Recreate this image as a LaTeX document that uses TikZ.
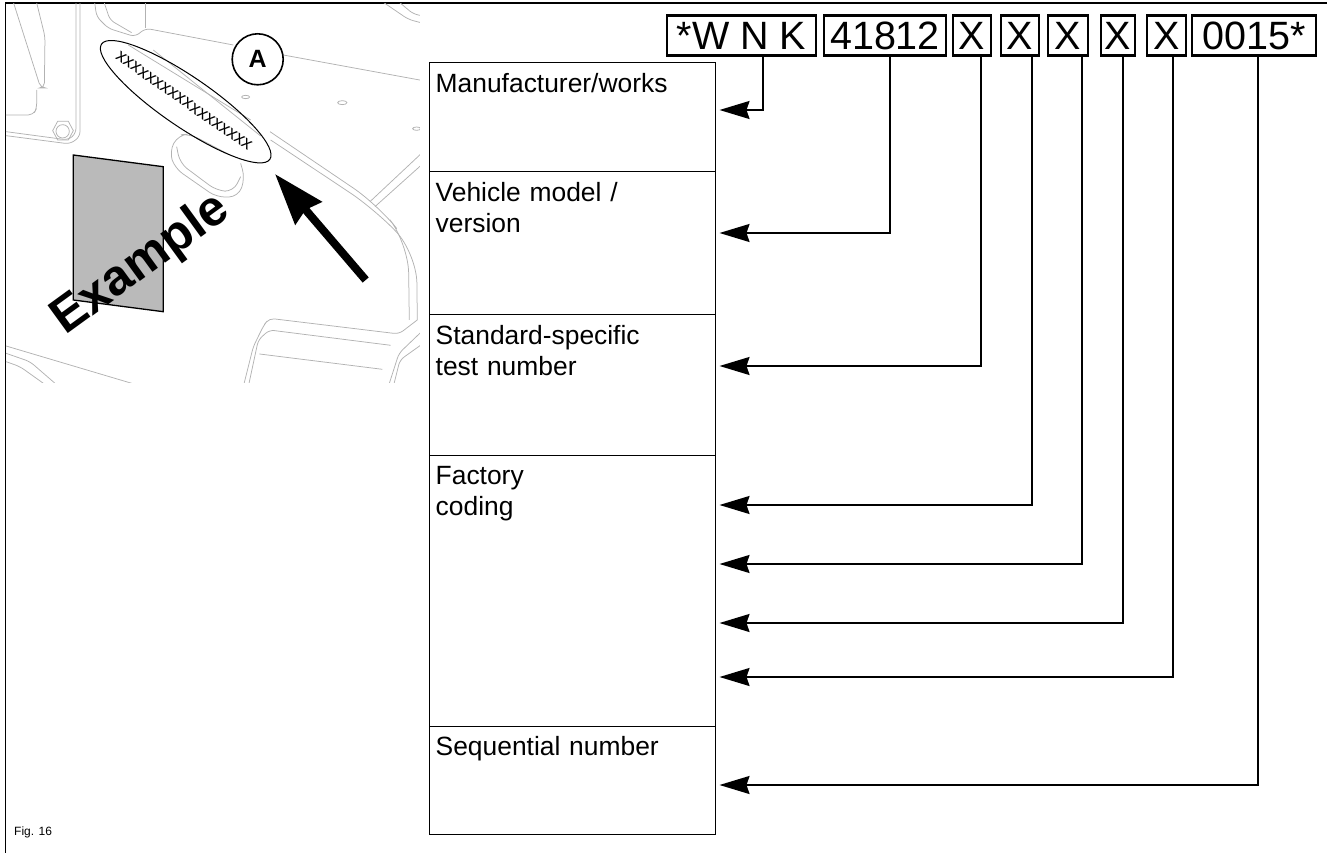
\documentclass[tikz,border=0pt]{standalone}
\usepackage{fontspec}
\setmainfont{Liberation Sans}
\usetikzlibrary{shapes.geometric,arrows.meta}
\tikzset{
    frameline/.style = {line width=1.3pt, draw=black},
    sketch/.style    = {line width=0.75pt, draw=black!30, rounded corners=5pt},
    fieldbox/.style  = {rectangle, draw=black, line width=1pt, minimum width=286pt, inner sep=0pt},
    fieldtext/.style = {anchor=north west, align=left, inner sep=0pt, text width=270pt, font=\fontsize{26.4}{31}\selectfont},
    codebox/.style   = {rectangle, draw=black, line width=2.4pt, minimum height=40pt, inner sep=0pt, font=\fontsize{39.5}{40}\selectfont},
    pointer/.style   = {line width=1.7pt, draw=black, -{Stealth[length=30pt,width=18pt,inset=3pt]}}
}
\begin{document}
\begin{tikzpicture}[x=1pt,y=-1pt]
    \useasboundingbox (0,0) rectangle (1327,853);

    % --- Frame ---
    \draw[frameline] (1327,3) -- (5.5,3) -- (5.5,853);

    % --- Machine sketch (coordinates three times enlarged) ---
    \begin{scope}[x=0.3333pt,y=-0.3333pt]
        \clip (18,12) rectangle (1260,1148);
        % upper left strut and bracket
        \draw[sketch] (38,0) -- (122,264) -- (133,264) -- (135,110) -- (108,0);
        \draw[sketch] (18,345) -- (100,345) -- (110,325) -- (110,270);
        \draw[sketch] (228,0) -- (228,400) -- (205,420) -- (18,395);
        \draw[sketch] (240,0) -- (240,410) -- (210,432) -- (18,407);
        \draw[sketch, rounded corners=0pt] (158,392) -- (173,364) -- (205,364) -- (220,392) -- (205,420) -- (173,420) -- cycle;
        \draw[sketch] (188,394) circle (20);
        % top edges
        \draw[sketch] (283,0) -- (290,50) -- (325,85) -- (405,110) -- (437,85) -- (700,135);
        \draw[sketch] (850,165) -- (1270,242);
        \draw[sketch] (310,0) -- (330,60) -- (395,98);
        \draw[sketch] (437,0) -- (437,85);
        \draw[sketch] (1140,0) -- (1225,58) -- (1270,70);
        \draw[sketch] (1190,0) -- (1240,42) -- (1270,48);
        % small holes
        \draw[sketch] (737,291) ellipse (12 and 5);
        \draw[sketch] (1027,308) ellipse (14 and 6);
        \draw[sketch] (1250,386) ellipse (12 and 5);
        % plate pressed in under the sign
        \draw[sketch] (385,135) -- (752,360);
        \draw[sketch] (460,150) -- (782,408);
        \draw[sketch, rounded corners=9pt] (690,465) -- (570,402) -- (535,405) -- (508,455) -- (525,505) -- (650,592) -- (715,590) -- (735,535) -- (722,490);
        \draw[sketch, rounded corners=9pt] (530,440) -- (540,490) -- (650,572) -- (700,575) -- (722,530);
        % long double edge on the right
        \draw[sketch, rounded corners=30pt] (810,395) -- (1135,615) -- (1225,730) -- (1228,960);
        \draw[sketch, rounded corners=30pt] (812,420) -- (1125,628) -- (1250,760) -- (1252,960);
        \draw[sketch] (1110,605) -- (1270,455);
        \draw[sketch] (1125,620) -- (1270,490);
        % seat at the bottom right
        \draw[sketch] (1252,960) -- (1197,1002) -- (808,955) -- (792,975) -- (760,1040) -- (730,1160);
        \draw[sketch] (745,1160) -- (775,1020) -- (808,990) -- (1172,1036);
        \draw[sketch] (778,1062) -- (1147,1108);
        \draw[sketch] (1270,990) -- (1197,1060) -- (1165,1160);
        \draw[sketch] (1270,1030) -- (1200,1080) -- (1180,1160);
        % lower left edges
        \draw[sketch] (18,1038) -- (395,1150);
        \draw[sketch] (18,1060) -- (90,1085) -- (165,1150);
        \draw[sketch] (18,1085) -- (60,1100) -- (130,1150);
    \end{scope}

    % --- Sign and marks on the sketch ---
    \filldraw[frameline, fill=black!27] (73.3,155) -- (163.3,166.7) -- (163.3,311.7) -- (73.3,300) -- cycle;
    \node[font=\fontsize{50}{50}\selectfont\bfseries, rotate=36] (example) at (141,265) {Example};
    \node[ellipse, draw=black, line width=1pt, minimum width=204pt, minimum height=50pt, inner sep=0pt, rotate=-34.4] (sign) at (185.7,101.7) {};
    \node[font=\fontsize{18}{18}\selectfont, rotate=-34.8, inner sep=0pt] (serial) at (184,101) {xxxxxxxxxxxxxxxxxx};
    \node[circle, draw=black, fill=white, line width=1.6pt, minimum size=51pt, inner sep=0pt, font=\fontsize{25}{25}\selectfont\bfseries] (detail_a) at (257.7,59.3) {A};
    \coordinate (view_tail) at (365.7,280);
    \coordinate (view_tip) at (275,174);
    \draw[line width=8pt, -{Stealth[length=51pt,width=34pt,inset=4pt]}] (view_tail) -- (view_tip);

    % --- Code boxes ---
    \node[codebox, minimum width=149pt] (code_wnk) at (741.5,35.5) {*W N K};
    \node[codebox, minimum width=122pt] (code_model) at (885,35.5) {41812};
    \node[codebox, minimum width=38pt] (code_x_a) at (972,35.5) {X};
    \node[codebox, minimum width=38pt] (code_x_b) at (1020,35.5) {X};
    \node[codebox, minimum width=40pt] (code_x_c) at (1068,35.5) {X};
    \node[codebox, minimum width=34pt] (code_x_d) at (1118,35.5) {X};
    \node[codebox, minimum width=39pt] (code_x_e) at (1166.5,35.5) {X};
    \node[codebox, minimum width=124pt] (code_seq) at (1254,35.5) {0015*};

    % --- Field boxes ---
    \node[fieldbox, minimum height=109pt] (manufacturer) at (572,117.5) {};
    \node[fieldbox, minimum height=142pt] (model) at (572,243) {};
    \node[fieldbox, minimum height=141pt] (standard) at (572,384.5) {};
    \node[fieldbox, minimum height=271pt] (factory) at (572,590.5) {};
    \node[fieldbox, minimum height=108pt] (sequential) at (572,780) {};

    \node[fieldtext] (manufacturer_t) at ([xshift=7pt,yshift=-11pt]manufacturer.north west) {Manufacturer/works};
    \node[fieldtext] (model_t) at ([xshift=7pt,yshift=-11pt]model.north west) {Vehicle model /\\version};
    \node[fieldtext] (standard_t) at ([xshift=7pt,yshift=-12pt]standard.north west) {Standard-specific\\test number};
    \node[fieldtext] (factory_t) at ([xshift=7pt,yshift=-12pt]factory.north west) {Factory\\coding};
    \node[fieldtext] (sequential_t) at ([xshift=7pt,yshift=-11pt]sequential.north west) {Sequential number};

    % --- Connections ---
    \draw[pointer] ([xshift=21.5pt]code_wnk.south) |- ([xshift=4pt]manufacturer.east |- 0,110);
    \draw[pointer] ([xshift=5pt]code_model.south) |- ([xshift=4pt]model.east |- 0,233);
    \draw[pointer] ([xshift=9pt]code_x_a.south) |- ([xshift=4pt]standard.east |- 0,366);
    \draw[pointer] ([xshift=12pt]code_x_b.south) |- ([xshift=4pt]factory.east |- 0,505);
    \draw[pointer] ([xshift=14pt]code_x_c.south) |- ([xshift=4pt]factory.east |- 0,564);
    \draw[pointer] ([xshift=5pt]code_x_d.south) |- ([xshift=4pt]factory.east |- 0,623);
    \draw[pointer] ([xshift=6.5pt]code_x_e.south) |- ([xshift=4pt]factory.east |- 0,677);
    \draw[pointer] ([xshift=4pt]code_seq.south) |- ([xshift=4pt]sequential.east |- 0,785);

    \node[anchor=west, inner sep=0pt, font=\fontsize{12}{12}\selectfont] (fig_label) at (14,832) {Fig. 16};
\end{tikzpicture}
\end{document}
